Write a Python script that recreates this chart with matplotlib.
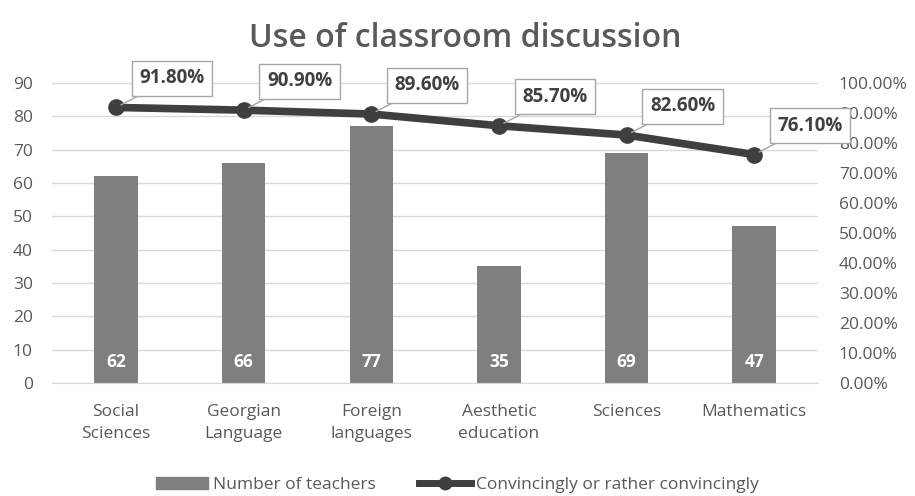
import numpy as np
import matplotlib.pyplot as plt
from matplotlib.lines import Line2D
from matplotlib.patches import Patch

categories = ['Social\nSciences', 'Georgian\nLanguage', 'Foreign\nlanguages',
              'Aesthetic\neducation', 'Sciences', 'Mathematics']
teachers = [62, 66, 77, 35, 69, 47]
convincing = [0.918, 0.909, 0.896, 0.857, 0.826, 0.761]

plt.rcParams['font.family'] = ['Open Sans', 'DejaVu Sans']
txt = '#595959'

fig = plt.figure(figsize=(9.15, 4.96), dpi=100)
ax = fig.add_axes([0.057, 0.228, 0.837, 0.605])
x = np.arange(len(categories))

ax.bar(x, teachers, width=0.34, color='#7f7f7f', zorder=2)
for xi, v in zip(x, teachers):
    ax.text(xi, 6.2, str(v), ha='center', va='center', color='white',
            fontsize=12.5, fontweight='bold', zorder=3)

ax.set_xlim(-0.5, len(categories) - 0.5)
ax.set_ylim(0, 90)
ax.set_yticks(range(0, 91, 10))
ax.yaxis.grid(True, color='#d9d9d9', linewidth=1)
ax.set_axisbelow(True)
ax.set_xticks(x)
ax.set_xticklabels(categories, fontsize=12.5, color=txt, linespacing=1.55)
ax.tick_params(axis='y', length=0, labelsize=12.5, colors=txt, pad=14)
ax.tick_params(axis='x', length=0, labelsize=12.5, colors=txt, pad=15)
for s in ax.spines.values():
    s.set_visible(False)
ax.spines['bottom'].set_visible(True)
ax.spines['bottom'].set_color('#d9d9d9')

ax2 = ax.twinx()
ax2.set_ylim(0, 1.0)
ax2.set_yticks(np.arange(0, 1.01, 0.1))
ax2.set_yticklabels([f'{t * 100:.2f}%' for t in np.arange(0, 1.01, 0.1)])
ax2.tick_params(axis='y', length=0, labelsize=12.5, colors=txt, pad=15)
for s in ax2.spines.values():
    s.set_visible(False)
ax2.plot(x, convincing, color='#3f3f3f', linewidth=5.5, marker='o',
         markersize=11, zorder=4)
for xi, v in zip(x, convincing):
    ax2.annotate(f'{v * 100:.2f}%', xy=(xi, v), xytext=(56, 29),
                 textcoords='offset pixels', ha='center', va='center',
                 fontsize=13.5, fontweight='bold', color='#404040',
                 bbox=dict(boxstyle='square,pad=0.4', fc='white', ec='#a6a6a6', lw=1),
                 arrowprops=dict(arrowstyle='-', color='#a6a6a6', lw=1,
                                 shrinkA=0, shrinkB=4),
                 zorder=5)

fig.suptitle('Use of classroom discussion', x=0.508, y=0.955, fontsize=23,
             fontweight='semibold', color=txt)

handles = [Patch(color='#7f7f7f'),
           Line2D([0], [0], color='#3f3f3f', lw=5, marker='o', markersize=9)]
fig.legend(handles, ['Number of teachers', 'Convincingly or rather convincingly'],
           loc='lower center', bbox_to_anchor=(0.5, -0.025), ncol=2, frameon=False,
           fontsize=12.5, labelcolor=txt, handlelength=3, handletextpad=0.3,
           columnspacing=2.5)

fig.savefig('out.png', dpi=100)
